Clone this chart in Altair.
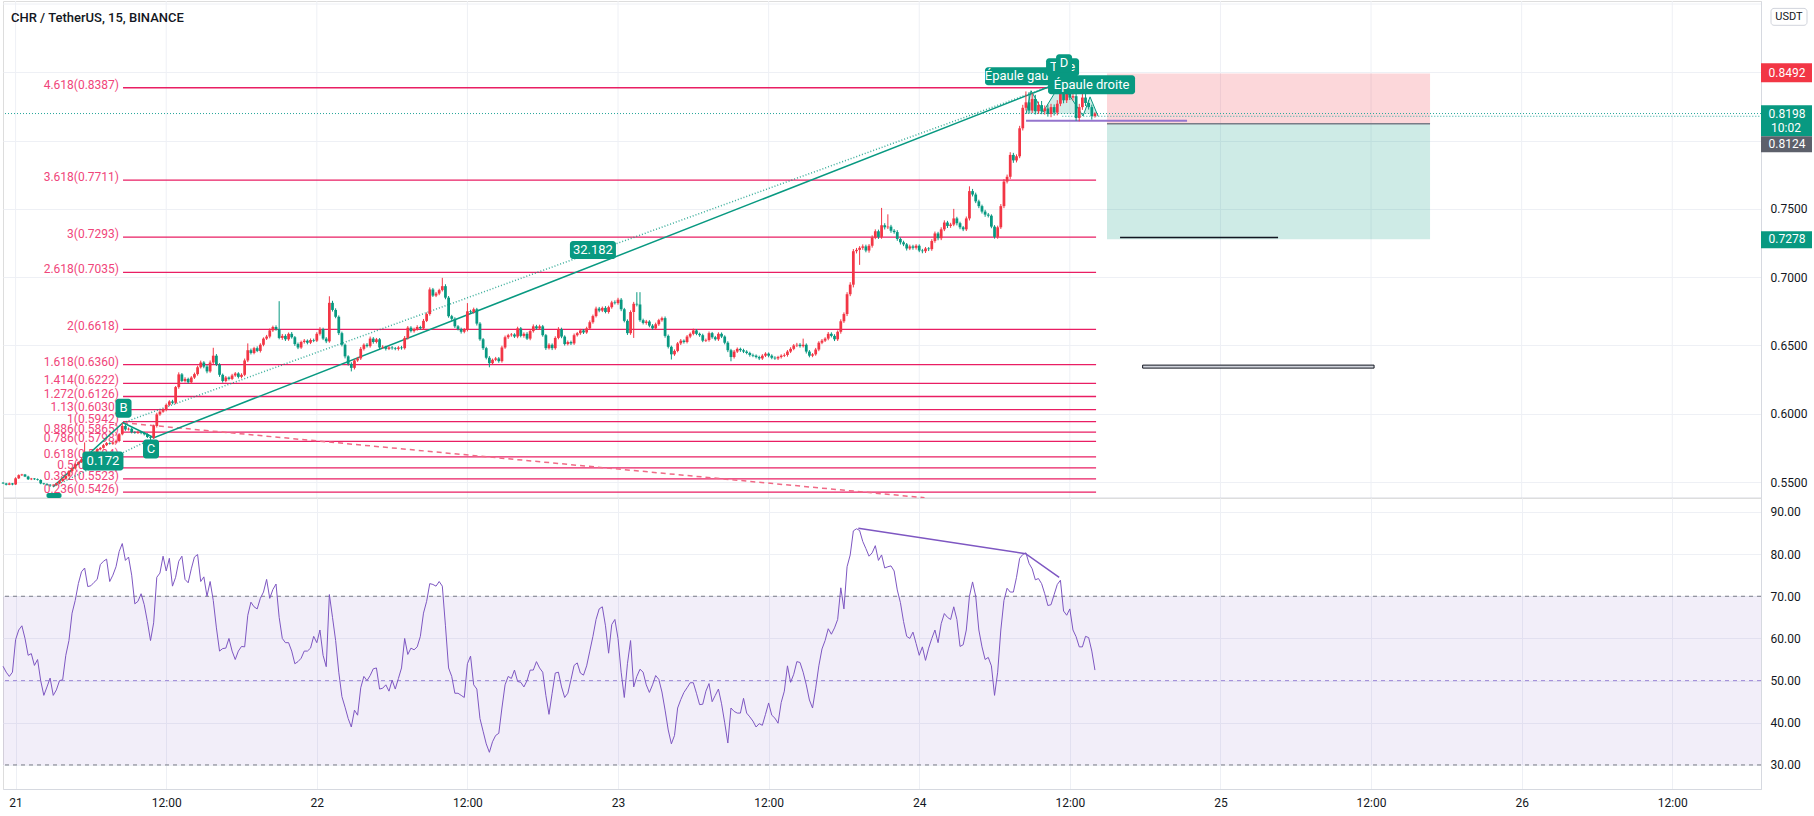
import altair as alt
import pandas as pd

TITLE = "CHR / TetherUS, 15, BINANCE"

# time in hours counted from the 21st 00:00 ; 15-minute candles
FIRST_HOUR = -1.0
BAR_HOURS = 0.25
FIRST_OPEN = 5495  # prices in units of 0.0001 USDT

CLOSES = [
    5490, 5480, 5490, 5482, 5527, 5550, 5555, 5540, 5520, 5525,
    5520, 5515, 5490, 5485, 5480, 5475, 5480, 5490, 5507, 5525,
    5544, 5580, 5600, 5630, 5645, 5666, 5700, 5705, 5690, 5720,
    5740, 5750, 5770, 5785, 5780, 5790, 5800, 5850, 5910, 5885,
    5890, 5865, 5860, 5865, 5860, 5850, 5830, 5824, 5910, 5995,
    6015, 6030, 6065, 6090, 6080, 6195, 6288, 6240, 6255, 6230,
    6265, 6290, 6340, 6375, 6345, 6310, 6375, 6425, 6360, 6285,
    6240, 6265, 6255, 6280, 6295, 6270, 6285, 6390, 6465, 6445,
    6480, 6460, 6505, 6550, 6565, 6610, 6635, 6620, 6555, 6570,
    6545, 6585, 6560, 6510, 6485, 6525, 6535, 6520, 6540, 6535,
    6585, 6620, 6550, 6530, 6812, 6760, 6710, 6590, 6505, 6420,
    6365, 6336, 6390, 6405, 6475, 6505, 6495, 6550, 6525, 6545,
    6485, 6490, 6475, 6485, 6480, 6475, 6485, 6480, 6555, 6630,
    6605, 6620, 6635, 6625, 6680, 6730, 6910, 6865, 6880, 6905,
    6934, 6850, 6714, 6695, 6640, 6620, 6600, 6615, 6750, 6745,
    6765, 6660, 6545, 6480, 6410, 6370, 6395, 6405, 6385, 6485,
    6560, 6575, 6580, 6565, 6625, 6570, 6585, 6550, 6605, 6640,
    6625, 6640, 6575, 6480, 6505, 6480, 6555, 6620, 6565, 6510,
    6525, 6515, 6575, 6590, 6610, 6595, 6625, 6670, 6715, 6770,
    6755, 6775, 6745, 6780, 6815, 6810, 6835, 6765, 6680, 6590,
    6745, 6805, 6800, 6685, 6665, 6675, 6645, 6625, 6655, 6685,
    6700, 6570, 6490, 6435, 6460, 6515, 6535, 6525, 6565, 6585,
    6610, 6585, 6575, 6535, 6540, 6590, 6560, 6545, 6585, 6565,
    6520, 6465, 6415, 6455, 6475, 6465, 6455, 6445, 6430, 6425,
    6415, 6405, 6425, 6440, 6425, 6410, 6405, 6415, 6425, 6430,
    6455, 6475, 6500, 6505, 6495, 6505, 6455, 6425, 6435, 6470,
    6520, 6535, 6550, 6585, 6570, 6545, 6600, 6677, 6730, 6875,
    6945, 7190, 7200, 7215, 7225, 7195, 7230, 7290, 7336, 7295,
    7380, 7365, 7370, 7340, 7330, 7280, 7255, 7240, 7210, 7225,
    7215, 7230, 7195, 7190, 7210, 7205, 7265, 7320, 7285, 7350,
    7400, 7375, 7385, 7430, 7395, 7365, 7350, 7430, 7630, 7605,
    7555, 7520, 7480, 7458, 7450, 7370, 7295, 7365, 7520, 7700,
    7735, 7895, 7855, 7885, 8090, 8240, 8280, 8220, 8305, 8215,
    8260, 8215, 8235, 8195, 8245, 8205, 8270, 8345, 8295, 8365,
    8315, 8325, 8165, 8245, 8315, 8275, 8245, 8180, 8198,
]

HIGH_EXT = [
    5, 4, 6, 3, 8, 6, 5, 4, 6, 5,
    4, 6, 5, 4, 7, 5, 4, 6, 8, 5,
    6, 7, 5, 8, 6, 9, 90, 12, 6, 8,
    7, 6, 9, 8, 6, 7, 10, 8, 24, 12,
    9, 8, 7, 10, 6, 8, 7, 9, 10, 12,
    11, 8, 10, 9, 12, 8, 15, 10, 12, 9,
    10, 11, 12, 14, 10, 12, 15, 58, 12, 10,
    9, 11, 8, 12, 10, 9, 11, 14, 50, 12,
    10, 13, 11, 9, 12, 14, 10, 12, 204, 14,
    12, 10, 13, 9, 11, 10, 12, 9, 11, 10,
    12, 14, 10, 11, 48, 15, 12, 10, 11, 9,
    8, 12, 10, 11, 14, 10, 12, 15, 11, 10,
    9, 12, 8, 10, 11, 9, 10, 12, 14, 12,
    11, 10, 13, 9, 14, 12, 15, 11, 12, 10,
    61, 14, 12, 10, 11, 9, 10, 12, 60, 11,
    12, 10, 11, 9, 10, 12, 9, 11, 10, 13,
    12, 10, 11, 9, 12, 10, 11, 12, 10, 14,
    11, 12, 10, 9, 11, 10, 12, 14, 10, 9,
    11, 10, 12, 9, 11, 10, 12, 13, 11, 14,
    12, 10, 13, 11, 12, 15, 14, 12, 10, 11,
    12, 14, 85, 90, 11, 12, 10, 11, 12, 10,
    11, 12, 10, 9, 11, 10, 12, 9, 11, 10,
    13, 10, 9, 11, 10, 12, 9, 10, 11, 10,
    9, 11, 10, 12, 10, 9, 11, 10, 9, 10,
    9, 10, 11, 10, 9, 10, 11, 9, 10, 12,
    11, 12, 10, 14, 12, 45, 10, 11, 9, 12,
    11, 12, 10, 13, 11, 12, 10, 14, 12, 15,
    18, 16, 14, 12, 15, 13, 12, 16, 14, 12,
    127, 15, 90, 13, 12, 14, 11, 12, 10, 13,
    12, 11, 10, 12, 11, 10, 13, 14, 12, 15,
    16, 12, 13, 70, 12, 11, 10, 14, 35, 16,
    14, 12, 11, 13, 12, 10, 11, 12, 15, 18,
    16, 20, 15, 14, 18, 22, 80, 75, 40, 30,
    25, 30, 22, 28, 24, 20, 26, 80, 30, 25,
    28, 22, 20, 24, 26, 30, 22, 18, 10,
]

LOW_EXT = [
    4, 5, 3, 6, 4, 5, 6, 4, 5, 6,
    5, 4, 6, 5, 7, 10, 6, 5, 4, 6,
    5, 6, 7, 5, 6, 5, 8, 6, 9, 7,
    6, 8, 5, 7, 6, 8, 7, 9, 8, 10,
    8, 9, 7, 8, 10, 9, 8, 14, 9, 11,
    10, 8, 12, 9, 11, 10, 12, 9, 11, 10,
    12, 10, 11, 9, 12, 14, 10, 12, 11, 15,
    12, 10, 11, 9, 10, 12, 11, 10, 12, 11,
    10, 9, 12, 11, 10, 13, 11, 12, 10, 14,
    12, 11, 10, 13, 12, 10, 11, 12, 10, 11,
    10, 12, 11, 13, 10, 12, 11, 14, 12, 15,
    13, 26, 12, 10, 11, 12, 10, 11, 12, 10,
    11, 10, 12, 9, 11, 10, 12, 11, 10, 12,
    10, 11, 12, 10, 11, 9, 12, 10, 11, 12,
    10, 12, 11, 14, 12, 10, 13, 11, 12, 10,
    12, 14, 11, 13, 12, 30, 11, 10, 12, 11,
    10, 12, 11, 10, 12, 11, 13, 10, 12, 11,
    10, 12, 11, 13, 10, 14, 11, 10, 12, 11,
    10, 12, 11, 10, 12, 11, 10, 12, 11, 10,
    12, 11, 10, 12, 11, 10, 12, 14, 11, 13,
    12, 190, 14, 12, 11, 13, 12, 11, 10, 12,
    11, 13, 12, 38, 11, 10, 12, 11, 10, 12,
    11, 10, 12, 11, 10, 12, 11, 10, 12, 11,
    12, 14, 31, 11, 10, 12, 11, 10, 12, 11,
    10, 12, 11, 10, 12, 11, 10, 12, 11, 10,
    12, 11, 10, 12, 11, 10, 14, 12, 11, 10,
    12, 11, 10, 12, 11, 13, 12, 14, 12, 15,
    14, 20, 16, 110, 15, 13, 16, 14, 12, 15,
    14, 16, 13, 15, 12, 14, 16, 13, 15, 12,
    14, 13, 12, 15, 13, 14, 12, 13, 15, 14,
    13, 15, 14, 12, 16, 14, 13, 12, 15, 14,
    13, 15, 14, 16, 13, 12, 13, 14, 12, 15,
    14, 16, 18, 15, 14, 16, 20, 22, 18, 24,
    20, 22, 25, 20, 24, 22, 20, 18, 22, 20,
    18, 22, 20, 24, 20, 22, 18, 26, 12,
]

RSI = [
    53.4, 52, 51, 52, 59.7, 62, 63, 60, 56, 56.4,
    53.6, 55, 50, 46.5, 48.5, 50.6, 46.5, 47.8, 50, 50.2,
    56, 59.5, 66, 69, 73, 75.8, 76.7, 72.3, 72.5, 73.3,
    74, 77.5, 78.3, 78.8, 73.5, 75, 77, 80.6, 82.5, 78.5,
    79.3, 75, 68.2, 68.8, 70.6, 68, 64, 59.5, 63.7, 74.5,
    75.5, 79.5, 76, 79, 72.4, 74.5, 78.3, 79.5, 74, 73.2,
    76.5, 79.3, 79.9, 73.5, 74.6, 70, 73.5, 69, 62.5, 57,
    57.6, 57.7, 60, 57, 55, 57, 58.1, 58, 65.5, 68.6,
    67.5, 67, 69.5, 71, 74, 69.5, 71.6, 72.9, 65, 60,
    59, 59, 57, 54, 54.5, 55.3, 57, 57, 57.7, 60.5,
    59, 62, 56, 53.3, 70.4, 65, 59.5, 52, 46.2, 43.7,
    41, 39, 43, 41.8, 48.3, 51, 50, 51.2, 52.8, 53,
    48, 48.2, 49, 47.5, 50.1, 48, 50.5, 53, 60, 56.2,
    57.7, 57.3, 58, 60.5, 66, 68.8, 73, 72.8, 72.4, 73.5,
    72.4, 63, 53, 51, 47, 47, 46.5, 46, 54, 55.8,
    49, 48, 41, 38, 35, 33, 35.5, 37, 37.5, 43.5,
    49, 51, 50.5, 52.5, 49.8, 49.6, 48.5, 50, 52.5, 52.5,
    54.5, 53, 52, 46.5, 42, 47, 51.8, 52, 48.5, 46,
    47, 50.2, 53.6, 54.2, 51.8, 51.3, 53.5, 57, 60.5, 64.5,
    67, 67.5, 63, 56.5, 63.3, 64.5, 60, 52, 46, 54,
    59.5, 48.5, 51, 52.7, 52, 49, 47.2, 49, 51.2, 50.3,
    47.3, 43, 38.3, 35, 37, 43.5, 45.5, 47.2, 48.3, 49.5,
    49.5, 47, 44.3, 44.4, 47.5, 49.3, 45, 46.5, 48, 44.5,
    40, 35.2, 43.5, 42.7, 42.3, 42.3, 45.8, 42.3, 41.4, 40.4,
    39, 39.8, 39.4, 42, 44.7, 41.8, 41.1, 39.9, 44.8, 47.5,
    53.5, 49.6, 51.5, 54.5, 54.3, 52, 49, 45.4, 43.5, 48.2,
    53.5, 57.5, 59.5, 62.3, 61, 62.5, 64.5, 72, 67, 77,
    79.8, 85.5, 86, 85.6, 83, 81.3, 79.5, 80.3, 82, 78.5,
    79.8, 76.7, 77, 77.2, 76, 71.5, 68.5, 64, 60.5, 60,
    61.5, 58.8, 56, 58, 54.8, 57.7, 60, 62, 59, 63.5,
    65.9, 65, 64.5, 67.5, 64.5, 58.1, 58.5, 62, 70, 73.4,
    70, 62, 58, 55, 55.5, 53.5, 46.5, 52, 62, 69,
    71.9, 71, 71, 74.5, 79, 79.9, 80.3, 77.8, 76.5, 73.9,
    74.2, 73, 70.6, 67.8, 68, 70.4, 72.8, 73.8, 66.5, 65.5,
    67, 62, 60.4, 58, 58, 60.5, 60.2, 57, 52.5,
]

FIB_RATIOS = ["4.618", "3.618", "3", "2.618", "2", "1.618", "1.414", "1.272",
              "1.13", "1", "0.886", "0.786", "0.618", "0.5", "0.382", "0.236"]
FIB_PRICES = [0.8387, 0.7711, 0.7293, 0.7035, 0.6618, 0.6360, 0.6222, 0.6126,
              0.6030, 0.5942, 0.5865, 0.5798, 0.5684, 0.5604, 0.5523, 0.5426]
FIB_T_START, FIB_T_END, FIB_T_LABEL = 8.56, 86.09, 8.24

# ABCD pattern points (hours, price)
ABCD_T = [2.98, 8.56, 11.03, 82.66]
ABCD_P = [0.5465, 0.5934, 0.5825, 0.8405]

# head & shoulders drawing
HS_T = [80.51, 80.91, 81.87, 83.30, 85.05, 85.61, 86.25]
HS_P = [0.8195, 0.8365, 0.8210, 0.8425, 0.8180, 0.8320, 0.8178]
HS_NECK = 0.8195
NECK_T = [80.51, 93.34]
NECK_P = 0.8146

# red dashed trend line
DASH_T = [8.56, 72.42]
DASH_P = [0.5934, 0.5385]

# short position tool
POS_T = [86.96, 112.70]
POS_STOP, POS_ENTRY, POS_TARGET = 0.8492, 0.8124, 0.7278

LAST_PRICE = 0.8198
SECOND_DOT_P, SECOND_DOT_T = 0.8178, 83.4
BLACK_T, BLACK_P = [88.0, 100.59], 0.7290
BAR_T, BAR_P = [89.80, 108.24], [0.6334, 0.6356]

# the "A" point label only shows as a sliver at the pane bottom
A_BOX_T, A_BOX_TOP = [2.46, 3.66], 0.5420

# teal label boxes: text, centre hour, centre price, width px, height px
LBL_TEXT = ["B", "C", "0.172", "32.182", "Épaule gauche", "Tête", "D", "Épaule droite"]
LBL_T = [8.60, 10.79, 6.96, 46.0, 80.59, 83.42, 83.54, 85.73]
LBL_P = [0.6041, 0.5742, 0.5654, 0.7198, 0.8471, 0.8537, 0.8566, 0.8409]
LBL_W = [16, 16, 41, 46, 84, 33, 16, 87]
LBL_H = [19, 19, 19, 18, 18, 18, 18, 19]

# price scale badges
BADGE_TEXT = ["0.8492", "0.8198", "0.8124", "0.7278"]
BADGE_COLOR = ["#f23645", "#089981", "#5d606b", "#089981"]
BADGE_TOP = [0.8566, 0.8258, 0.8032, 0.7337]
BADGE_BOT = [0.8427, 0.8032, 0.7915, 0.7212]
BADGE_TXT_P = [0.8492, 0.8198, 0.7973, 0.7278]
COUNTDOWN, COUNTDOWN_P = "10:02", 0.8090

RSI_DIV_T = [67.15, 80.475, 83.15]
RSI_DIV_V = [86.1, 80.1, 74.5]

X_DOMAIN = [-1.004, 139.07]
P_DOMAIN = [0.5383, 0.9022]
R_DOMAIN = [24.3, 93.3]
X_TICKS = list(range(0, 133, 12))
P_TICKS = [0.55, 0.60, 0.65, 0.70, 0.75, 0.80, 0.85]
P_TOP_GRID = 0.90
R_TICKS = [30, 40, 50, 60, 70, 80, 90]

W, HP, HR = 1758, 497, 291
PX_PER_HOUR = W / (X_DOMAIN[1] - X_DOMAIN[0])
PX_PER_PRICE = HP / (P_DOMAIN[1] - P_DOMAIN[0])

GRID = "#eef0f5"
BORDER = "#d6d9e0"
TXT = "#131722"
UP, DOWN = "#26a69a", "#ef5350"
TEAL = "#089981"
FIB = "#e91e63"
PURPLE = "#7e57c2"

# ---------------- data frames ----------------
n = min(len(CLOSES), len(HIGH_EXT), len(LOW_EXT), len(RSI))
rows = []
prev = FIRST_OPEN
for i in range(n):
    o, c = prev / 1e4, CLOSES[i] / 1e4
    lo_b, hi_b = min(o, c), max(o, c)
    if hi_b - lo_b < 0.00015:
        hi_b = lo_b + 0.00015
    rows.append(dict(t=FIRST_HOUR + BAR_HOURS * i, open=o, close=c,
                     high=max(o, c) + HIGH_EXT[i] / 1e4, low=min(o, c) - LOW_EXT[i] / 1e4,
                     blo=lo_b, bhi=hi_b, dir="up" if c >= o else "down", rsi=RSI[i]))
    prev = CLOSES[i]
candles = pd.DataFrame(rows)
candles["t0"] = candles["t"] - 0.11
candles["t1"] = candles["t"] + 0.11

xs = alt.Scale(domain=X_DOMAIN, nice=False, zero=False)
ps = alt.Scale(domain=P_DOMAIN, nice=False, zero=False)
rs = alt.Scale(domain=R_DOMAIN, nice=False, zero=False)

x_axis_bot = alt.Axis(values=X_TICKS, ticks=False, domain=True, domainColor=BORDER,
                      grid=True, gridColor=GRID, title=None, labelPadding=8,
                      labelFontSize=12, labelColor=TXT, labelOverlap=False,
                      labelFlush=False, labelBound=False,
                      labelExpr="datum.value % 24 == 0 ? format(21 + datum.value / 24, 'd') : '12:00'")
p_axis = alt.Axis(orient="right", values=P_TICKS, ticks=False, domain=True,
                  domainColor=BORDER, grid=True, gridColor=GRID, title=None,
                  labelPadding=9, labelFontSize=12, labelColor=TXT,
                  labelExpr="datum.value > 0.775 ? '' : format(datum.value, '.4f')")
r_axis = alt.Axis(orient="right", values=R_TICKS, ticks=False, domain=True,
                  domainColor=BORDER, grid=True, gridColor=GRID, title=None,
                  labelPadding=9, labelFontSize=12, labelColor=TXT, format=".2f")


def PX(f):
    return alt.X(f, type="quantitative", scale=xs, axis=None)


def RX(f):
    return alt.X(f, type="quantitative", scale=xs, axis=x_axis_bot)


def PY(f):
    return alt.Y(f, type="quantitative", scale=ps, axis=p_axis)


def RY(f):
    return alt.Y(f, type="quantitative", scale=rs, axis=r_axis)


price_layers = []

# vertical grid of the price pane, top grid line and bottom border
price_layers.append(alt.Chart(pd.DataFrame({"t": X_TICKS})).mark_rule(color=GRID, strokeWidth=1).encode(x=PX("t")))
price_layers.append(alt.Chart(pd.DataFrame({"p": [P_TOP_GRID]})).mark_rule(color=GRID, strokeWidth=1).encode(y=PY("p")))
price_layers.append(alt.Chart(pd.DataFrame({"p": [P_DOMAIN[0]]})).mark_rule(color=BORDER, strokeWidth=1).encode(y=PY("p")))

# position tool
pos = pd.DataFrame({"t0": [POS_T[0]] * 2, "t1": [POS_T[1]] * 2,
                    "p0": [POS_ENTRY, POS_TARGET], "p1": [POS_STOP, POS_ENTRY],
                    "kind": ["stop", "target"]})
price_layers.append(alt.Chart(pos).mark_rect(opacity=0.2).encode(
    x=PX("t0"), x2=alt.X2("t1"), y=PY("p0"), y2=alt.Y2("p1"),
    color=alt.Color("kind:N", scale=alt.Scale(domain=["stop", "target"], range=["#f23645", TEAL]), legend=None)))
price_layers.append(alt.Chart(pd.DataFrame({"t0": [POS_T[0]], "t1": [POS_T[1]], "p": [POS_ENTRY]})).mark_rule(
    color="#787b86", strokeWidth=1.5).encode(x=PX("t0"), x2=alt.X2("t1"), y=PY("p")))
price_layers.append(alt.Chart(pd.DataFrame({"t0": [BLACK_T[0]], "t1": [BLACK_T[1]], "p": [BLACK_P]})).mark_rule(
    color=TXT, strokeWidth=1.5).encode(x=PX("t0"), x2=alt.X2("t1"), y=PY("p")))
price_layers.append(alt.Chart(pd.DataFrame({"t0": [BAR_T[0]], "t1": [BAR_T[1]], "p0": [BAR_P[0]], "p1": [BAR_P[1]]})).mark_rect(
    fill="#d1d4dc", stroke=TXT, strokeWidth=1).encode(x=PX("t0"), x2=alt.X2("t1"), y=PY("p0"), y2=alt.Y2("p1")))

# fib extension
fib = pd.DataFrame({"p": FIB_PRICES, "t0": FIB_T_START, "t1": FIB_T_END, "tl": FIB_T_LABEL,
                    "label": [f"{r}({p:.4f})" for r, p in zip(FIB_RATIOS, FIB_PRICES)]})
price_layers.append(alt.Chart(fib).mark_rule(color=FIB, strokeWidth=1.3).encode(
    x=PX("t0"), x2=alt.X2("t1"), y=PY("p")))
price_layers.append(alt.Chart(fib).mark_text(align="right", baseline="middle", fontSize=12, color="#f0457a", dy=-3).encode(
    x=PX("tl"), y=PY("p"), text="label:N"))

# red dashed line
price_layers.append(alt.Chart(pd.DataFrame({"t": DASH_T, "p": DASH_P})).mark_line(
    color="#f06a86", strokeWidth=1.5, strokeDash=[5, 4]).encode(x=PX("t"), y=PY("p")))

# last price dotted lines
price_layers.append(alt.Chart(pd.DataFrame({"p": [LAST_PRICE]})).mark_rule(
    color=UP, strokeWidth=1, strokeDash=[1, 2]).encode(y=PY("p")))
price_layers.append(alt.Chart(pd.DataFrame({"t0": [SECOND_DOT_T], "t1": [X_DOMAIN[1]], "p": [SECOND_DOT_P]})).mark_rule(
    color=UP, strokeWidth=1, strokeDash=[1, 2]).encode(x=PX("t0"), x2=alt.X2("t1"), y=PY("p")))

# ABCD
abcd = pd.DataFrame({"t": ABCD_T, "p": ABCD_P, "o": range(4)})
price_layers.append(alt.Chart(abcd).mark_line(color=TEAL, strokeWidth=1.5).encode(
    x=PX("t"), y=PY("p"), order="o:Q"))
diag = pd.DataFrame({"t": [ABCD_T[0], ABCD_T[2], ABCD_T[1], ABCD_T[3]],
                     "p": [ABCD_P[0], ABCD_P[2], ABCD_P[1], ABCD_P[3]],
                     "g": ["ac", "ac", "bd", "bd"]})
price_layers.append(alt.Chart(diag).mark_line(color=TEAL, strokeWidth=1.5, strokeDash=[1, 2], opacity=0.8).encode(
    x=PX("t"), y=PY("p"), detail="g:N"))

# head & shoulders
hs = pd.DataFrame({"t": HS_T, "p": HS_P, "neck": HS_NECK})
price_layers.append(alt.Chart(hs).mark_area(color=TEAL, opacity=0.18).encode(
    x=PX("t"), y=PY("p"), y2=alt.Y2("neck")))
price_layers.append(alt.Chart(hs).mark_line(color=TEAL, strokeWidth=1).encode(x=PX("t"), y=PY("p")))
price_layers.append(alt.Chart(pd.DataFrame({"t0": [NECK_T[0]], "t1": [NECK_T[1]], "p": [NECK_P]})).mark_rule(
    color="#9575cd", strokeWidth=2).encode(x=PX("t0"), x2=alt.X2("t1"), y=PY("p")))

# candles
dir_color = alt.Color("dir:N", scale=alt.Scale(domain=["up", "down"], range=[UP, DOWN]), legend=None)
price_layers.append(alt.Chart(candles).mark_rule(strokeWidth=1).encode(
    x=PX("t"), y=PY("low"), y2=alt.Y2("high"), color=dir_color))
price_layers.append(alt.Chart(candles).mark_rect().encode(
    x=PX("t0"), x2=alt.X2("t1"), y=PY("blo"), y2=alt.Y2("bhi"), color=dir_color))

# sliver of the "A" label box at the pane bottom
price_layers.append(alt.Chart(pd.DataFrame({"t0": [A_BOX_T[0]], "t1": [A_BOX_T[1]],
                                            "p0": [P_DOMAIN[0]], "p1": [A_BOX_TOP]})).mark_rect(
    color=TEAL, cornerRadius=2).encode(x=PX("t0"), x2=alt.X2("t1"), y=PY("p0"), y2=alt.Y2("p1")))

# teal labels (drawn in order so later ones cover earlier ones)
for txt, t, p, w, h in zip(LBL_TEXT, LBL_T, LBL_P, LBL_W, LBL_H):
    d = pd.DataFrame({"t": [t], "p": [p], "label": [txt],
                      "t0": [t - w / 2 / PX_PER_HOUR], "t1": [t + w / 2 / PX_PER_HOUR],
                      "p0": [p - h / 2 / PX_PER_PRICE], "p1": [p + h / 2 / PX_PER_PRICE]})
    price_layers.append(alt.Chart(d).mark_rect(color=TEAL, cornerRadius=3).encode(
        x=PX("t0"), x2=alt.X2("t1"), y=PY("p0"), y2=alt.Y2("p1")))
    price_layers.append(alt.Chart(d).mark_text(color="white", fontSize=13, align="center", baseline="middle").encode(
        x=PX("t"), y=PY("p"), text="label:N"))

# badges on the price scale
badges = pd.DataFrame({"label": BADGE_TEXT, "color": BADGE_COLOR, "top": BADGE_TOP,
                       "bot": BADGE_BOT, "tp": BADGE_TXT_P})
price_layers.append(alt.Chart(badges).mark_rect().encode(
    x=alt.value(1758), x2=alt.value(1809), y=PY("bot"), y2=alt.Y2("top"),
    color=alt.Color("color:N", scale=None)))
price_layers.append(alt.Chart(badges).mark_text(color="white", fontSize=12, align="center", baseline="middle").encode(
    x=alt.value(1784), y=PY("tp"), text="label:N"))
price_layers.append(alt.Chart(pd.DataFrame({"label": [COUNTDOWN], "p": [COUNTDOWN_P]})).mark_text(
    color="white", fontSize=12, align="center", baseline="middle").encode(x=alt.value(1783), y=PY("p"), text="label:N"))

# currency box
cur = pd.DataFrame({"label": ["USDT"], "top": [0.8968], "bot": [0.8844], "p": [0.8906]})
price_layers.append(alt.Chart(cur).mark_rect(fill="white", stroke="#d1d4dc", cornerRadius=3).encode(
    x=alt.value(1768), x2=alt.value(1804), y=PY("bot"), y2=alt.Y2("top")))
price_layers.append(alt.Chart(cur).mark_text(color=TXT, fontSize=11, align="center", baseline="middle").encode(
    x=alt.value(1786), y=PY("p"), text="label:N"))

# title
price_layers.append(alt.Chart(pd.DataFrame({"label": [TITLE]})).mark_text(
    color=TXT, fontSize=13, align="left", baseline="middle", fontWeight=500).encode(
    x=alt.value(8), y=alt.value(17), text="label:N"))

price_chart = alt.layer(*price_layers).properties(width=W, height=HP)

# ---------------- RSI panel ----------------
rsi_layers = []
band = pd.DataFrame({"t0": [X_DOMAIN[0]], "t1": [X_DOMAIN[1]], "lo": [30], "hi": [70]})
rsi_layers.append(alt.Chart(band).mark_rect(color=PURPLE, opacity=0.1).encode(
    x=RX("t0"), x2=alt.X2("t1"), y=RY("lo"), y2=alt.Y2("hi")))
rsi_layers.append(alt.Chart(pd.DataFrame({"v": [70, 30]})).mark_rule(
    color="#787b86", strokeDash=[4, 4], strokeWidth=1).encode(y=RY("v")))
rsi_layers.append(alt.Chart(pd.DataFrame({"v": [50]})).mark_rule(
    color="#9b87d6", strokeDash=[4, 4], strokeWidth=1).encode(y=RY("v")))
rsi_layers.append(alt.Chart(candles).mark_line(color=PURPLE, strokeWidth=1).encode(
    x=RX("t"), y=RY("rsi")))
rsi_layers.append(alt.Chart(pd.DataFrame({"t": RSI_DIV_T, "v": RSI_DIV_V})).mark_line(
    color=PURPLE, strokeWidth=1.5).encode(x=RX("t"), y=RY("v")))

rsi_chart = alt.layer(*rsi_layers).properties(width=W, height=HR)

chart = alt.vconcat(price_chart, rsi_chart, spacing=0, bounds="flush").properties(
    padding={"left": 0, "top": 0, "right": 0, "bottom": 0}, background="white"
).configure_view(stroke=None).configure(font="Roboto")

chart.save("out.html", embed_options={"renderer": "svg", "actions": False})
